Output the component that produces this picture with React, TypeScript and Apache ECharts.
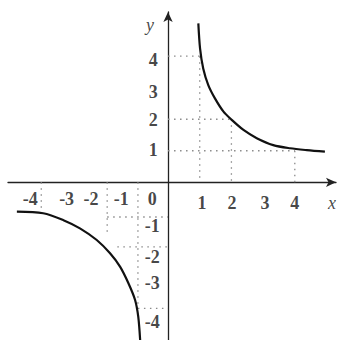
import React, { useEffect, useRef } from "react";
import * as echarts from "echarts";

// Curve points (two branches)
const branchPositive: [number, number][] = [
  [0.956, 5.04], [1.01, 4.25], [1.11, 3.61], [1.27, 3.08], [1.48, 2.66], [1.75, 2.24],
  [2.01, 1.98], [2.38, 1.66], [2.8, 1.4], [3.32, 1.18], [3.85, 1.08], [4.38, 1.02],
  [4.95, 0.97],
];
const branchNegative: [number, number][] = [
  [-4.77, -0.93], [-3.94, -0.98], [-3.3, -1.2], [-2.78, -1.46], [-2.25, -1.83],
  [-1.83, -2.25], [-1.51, -2.68], [-1.25, -3.2], [-1.04, -3.73], [-0.94, -4.26],
  [-0.88, -5.0],
];

// Dotted guide segments [x1, y1, x2, y2]
const guideSegments: [number, number, number, number][] = [
  [0, 4, 1, 4], [1, 4, 1, 0],
  [0, 2, 2, 2], [2, 2, 2, 0],
  [0, 1, 4, 1], [4, 1, 4, 0],
  [-4, 0, -4, -1],
  [-1.92, 0, -1.92, -1.6], [-1.92, -1.1, 0, -1.1], [-1.6, -2.05, 0, -2.05],
  [-0.95, 0, -0.95, -4], [-0.95, -4, 0, -4],
];

// Tick labels: [x, y, text] as placed in the picture
const xTickLabels: [number, number, string][] = [
  [1.07, -0.67, "1"], [2.02, -0.67, "2"], [3.06, -0.67, "3"], [4.0, -0.67, "4"],
  [-4.35, -0.54, "-4"], [-3.2, -0.54, "-3"], [-2.43, -0.54, "-2"], [-1.48, -0.54, "-1"],
  [-0.5, -0.54, "0"],
];
const yTickLabels: [number, number, string][] = [
  [-0.47, 3.87, "4"], [-0.47, 2.86, "3"], [-0.47, 1.97, "2"], [-0.47, 1.02, "1"],
  [-0.5, -1.37, "-1"], [-0.5, -2.38, "-2"], [-0.5, -3.2, "-3"], [-0.5, -4.44, "-4"],
];
const axisNames: [number, number, string][] = [
  [5.17, -0.67, "x"],
  [-0.57, 4.98, "y"],
];

const FONT = "Liberation Serif";

export default function App() {
  const ref = useRef<HTMLDivElement>(null);
  useEffect(() => {
    if (!ref.current) return;
    const chart = echarts.init(ref.current, null, { renderer: "svg" });

    const guideSeries = guideSegments.map((s) => ({
      type: "line",
      data: [[s[0], s[1]], [s[2], s[3]]],
      symbol: "none",
      silent: true,
      z: 1,
      lineStyle: { color: "#8a8a8a", width: 1.3, type: [1.5, 4.5] },
    }));

    const labelSeries = (data: [number, number, string][], italic: boolean) => ({
      type: "scatter",
      data: data.map((d) => ({ value: [d[0], d[1]], name: d[2] })),
      symbolSize: 0,
      silent: true,
      z: 5,
      itemStyle: { color: "#111" },
      label: {
        show: true,
        position: "inside",
        align: "center",
        verticalAlign: "middle",
        formatter: (p: any) => p.name,
        fontFamily: FONT,
        fontSize: 18,
        fontWeight: italic ? "normal" : "bold",
        fontStyle: italic ? "italic" : "normal",
        color: "#151515",
        textBorderWidth: 0,
        textBorderColor: "transparent",
      },
    });

    chart.setOption({
      animation: false,
      backgroundColor: "#ffffff",
      grid: { left: 8, right: 1, top: 12, bottom: 0 },
      xAxis: {
        type: "value",
        min: -5.05,
        max: 5.3,
        axisLine: {
          onZero: true,
          symbol: ["none", "arrow"],
          symbolSize: [7, 10],
          lineStyle: { color: "#222", width: 1.3 },
        },
        axisTick: { show: false },
        axisLabel: { show: false },
        splitLine: { show: false },
      },
      yAxis: {
        type: "value",
        min: -5.0,
        max: 5.4,
        axisLine: {
          onZero: true,
          symbol: ["none", "arrow"],
          symbolSize: [7, 10],
          lineStyle: { color: "#222", width: 1.3 },
        },
        axisTick: { show: false },
        axisLabel: { show: false },
        splitLine: { show: false },
      },
      series: [
        ...guideSeries,
        {
          type: "line",
          data: branchPositive,
          smooth: 0.3,
          symbol: "none",
          z: 3,
          lineStyle: { color: "#111", width: 2.2 },
        },
        {
          type: "line",
          data: branchNegative,
          smooth: 0.3,
          symbol: "none",
          z: 3,
          lineStyle: { color: "#111", width: 2.2 },
        },
        labelSeries(xTickLabels, false),
        labelSeries(yTickLabels, false),
        labelSeries(axisNames, true),
      ],
    });
    return () => chart.dispose();
  }, []);
  return (
    <div
      ref={ref}
      style={{ position: "absolute", left: 0, top: 0, width: 337, height: 340 }}
    />
  );
}
